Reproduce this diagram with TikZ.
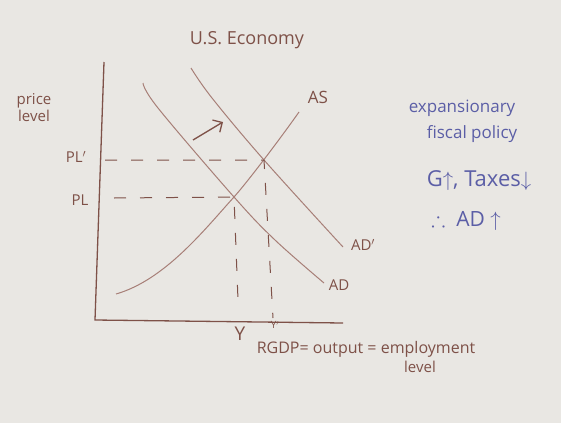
\documentclass[tikz,border=0pt]{standalone}
\usepackage{amssymb}
\usepackage{fontspec}
\setmainfont{Open Sans}
\usepackage{tikz}
\usetikzlibrary{arrows.meta}
\definecolor{board}{HTML}{E9E7E3}
\definecolor{marker}{HTML}{7E5148}
\definecolor{curve}{HTML}{A77F77}
\definecolor{ink}{HTML}{5B5EA6}

\begin{document}
\begin{tikzpicture}[
    x=1pt,y=-1pt,
    font=\fontsize{15}{17}\selectfont,
    lbl/.style ={text=marker,inner sep=1pt},
    note/.style={text=ink,inner sep=1pt,font=\fontsize{17}{19}\selectfont},
    axis/.style={draw=marker,line width=1.3pt},
    crv/.style ={draw=curve,line width=1pt},
    guide/.style={draw=marker,line width=1pt,dash pattern=on 12pt off 14pt},
    arr/.style ={-{Straight Barb[length=2.5mm]},draw=marker,line width=1.3pt},
    ]
    \fill[board] (0,0) rectangle (561,423);
    \useasboundingbox (0,0) rectangle (561,423);

    % axes
    \coordinate (top)    at (104,62);
    \coordinate (origin) at (95,320);
    \coordinate (xend)   at (343,323);
    \draw[axis] (top) -- (origin) -- (xend);

    % equilibrium points
    \coordinate (e1) at (234,197);
    \coordinate (e2) at (264,160);

    % curves
    \coordinate (as0) at (116,294);
    \coordinate (as1) at (299,112);
    \draw[crv] (as0) .. controls (165,280) and (205,229) .. (e1)
                     .. controls (250,179) and (285,132) .. (as1);
    \draw[crv] plot[smooth,tension=0.6] coordinates
      {(143,83) (158,108) (e1) (275,240) (324,283)};
    \draw[crv] plot[smooth,tension=0.6] coordinates
      {(191,68) (212,98) (e2) (343,247)};

    % shift arrow
    \coordinate (sh1) at (193,140);
    \coordinate (sh2) at (223,122);
    \draw[arr] (sh1) -- (sh2);

    % guides
    \coordinate (pl1) at (105,160);
    \coordinate (pl0) at (114,198);
    \coordinate (y0)  at (238,300);
    \coordinate (y1)  at (273,318);
    \draw[guide] (pl1) -- (e2) -- (y1);
    \draw[guide] (pl0) -- (e1) -- (y0);

    % labels
    \node[lbl,font=\fontsize{18}{20}\selectfont] (title) at (247,40) {U.S. Economy};
    \node[lbl,align=center] (pricelbl) at (34,108) {price\\ level};
    \node[lbl] (plp)  at (76,157)  {PL$'$};
    \node[lbl] (plz)  at (80,200)  {PL};
    \node[lbl,font=\fontsize{17}{19}\selectfont] (aslbl)  at (318,97)  {AS};
    \node[lbl] (adplbl) at (363,245) {AD$'$};
    \node[lbl] (adlbl)  at (339,285) {AD};
    \node[lbl,font=\fontsize{19}{21}\selectfont] (ylbl) at (240,334) {Y};
    \node[lbl] (yplbl)  at (275,325) {\fontsize{10}{12}\selectfont Y$'$};
    \node[lbl,font=\fontsize{16}{18}\selectfont] (xlbl) at (366,349) {RGDP= output = employment};
    \node[lbl] (xlbl2)  at (420,367) {level};

    % policy note
    \node[note] (n1) at (462,108) {expansionary};
    \node[note] (n2) at (472,134) {fiscal policy};
    \node[note,font=\fontsize{22}{24}\selectfont] (n3) at (479,181) {G$\uparrow$, Taxes$\downarrow$};
    \node[note,font=\fontsize{21}{23}\selectfont] (n4) at (466,221) {$\therefore$\ \ AD $\uparrow$};
\end{tikzpicture}
\end{document}
